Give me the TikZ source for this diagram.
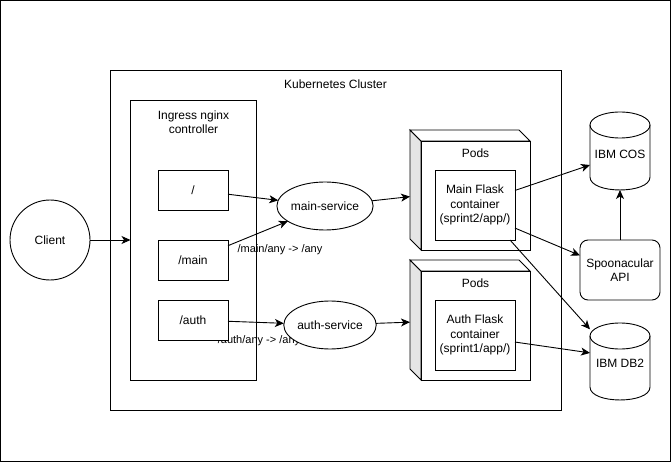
\documentclass[tikz,border=0pt]{standalone}
\usepackage{fontspec}
\setmainfont{Liberation Sans}
\usetikzlibrary{arrows.meta,shapes.geometric}
\tikzset{mybox/.style={draw,fill=white,align=center,inner sep=0pt,outer sep=0pt}}
\tikzset{myellipse/.style={draw,fill=white,shape=ellipse,inner sep=0pt,outer sep=0pt,minimum width=90,minimum height=48}}
\tikzset{myarrow/.style={-{Stealth[length=9pt,width=8pt,inset=2.5pt]}}}
\tikzset{smalltext/.style={font=\fontsize{11}{13}\selectfont}}

\begin{document}
\begin{tikzpicture}[x=1pt,y=-1pt,line width=0.9pt,font=\fontsize{12}{14.5}\selectfont]
            \useasboundingbox (0,0) rectangle (671,462);
            \draw (0.5,0.5) rectangle (670,461);
            % setup the frames
            \node[draw,inner sep=0pt,outer sep=0pt,minimum width=451,minimum height=340] (cluster) at (335.5,240) {};
            \node (clusterlbl) at (335.5,84) {Kubernetes Cluster};
            \node[draw,inner sep=0pt,outer sep=0pt,minimum width=126,minimum height=280] (ingress) at (193.5,240) {};
            \node[align=center] (ingresslbl) at (193.5,122) {Ingress nginx\\controller};
            % route labels go under the shapes
            \node[smalltext] (mainlbl) at (280,250) {/main/any -> /any};
            \node[smalltext] (authlbl) at (259,341) {/auth/any -> /any};
            % setup the nodes
            \node[draw,fill=white,circle,inner sep=0pt,outer sep=0pt,minimum size=80] (client) at (50,240) {Client};
            \node[mybox,minimum width=70,minimum height=40] (slash) at (193,190) {/};
            \node[mybox,minimum width=70,minimum height=40] (mainroute) at (193,260) {/main};
            \node[mybox,minimum width=70,minimum height=40] (authroute) at (193,320) {/auth};
            \node[myellipse] (mainsvc) at (325,206) {main-service};
            \node[myellipse] (authsvc) at (330,325) {auth-service};
            \node[inner sep=0pt,outer sep=0pt,minimum size=120] (pod1) at (470,190) {};
            \node[inner sep=0pt,outer sep=0pt,minimum size=120] (pod2) at (470,320) {};
            \foreach \p in {pod1,pod2}
            {
                \draw[fill=gray!20] (\p.north west) -- ++(11,11) -- ++(0,109) -- ++(-11,-11) -- cycle;
                \draw[fill=white] (\p.north west) -- ++(109,0) -- ++(11,11) -- ++(-109,0) -- cycle;
                \draw[fill=white] ([shift={(11,11)}]\p.north west) rectangle (\p.south east);
                \node (\p lbl) at ([shift={(5.5,23)}]\p.north) {Pods};
            }
            \node[mybox,minimum width=80,minimum height=70] (maincont) at (475,205) {Main Flask\\container\\(sprint2/app/)};
            \node[mybox,minimum width=80,minimum height=70] (authcont) at (475,335) {Auth Flask\\container\\(sprint1/app/)};
            \node[mybox,rounded corners=8pt,minimum width=80,minimum height=60] (spoon) at (620,270) {Spoonacular\\API};
            \node[inner sep=0pt,outer sep=0pt,minimum width=60,minimum height=78] (cos) at (620,151) {};
            \node[inner sep=0pt,outer sep=0pt,minimum width=60,minimum height=77] (db) at (620,361.5) {};
            \foreach \c in {cos,db}
            {
                \draw ([shift={(0,13)}]\c.north west) -- ([shift={(0,-13)}]\c.south west)
                    .. controls ([shift={(0,4.3)}]\c.south west) and ([shift={(0,4.3)}]\c.south east) .. ([shift={(0,-13)}]\c.south east)
                    -- ([shift={(0,13)}]\c.north east);
                \draw ([shift={(0,13)}]\c.north) ellipse [x radius=30, y radius=13];
            }
            \node (coslbl) at ([shift={(0,3)}]cos.center) {IBM COS};
            \node (dblbl) at ([shift={(0,2)}]db.center) {IBM DB2};
            % connectors
            \draw[myarrow] (client) -- (ingress);
            \draw[myarrow] (slash) -- (mainsvc);
            \draw[myarrow] (mainroute) -- (mainsvc);
            \draw[myarrow] (authroute) -- (authsvc);
            \draw[myarrow] (mainsvc) -- (pod1);
            \draw[myarrow] (authsvc) -- (pod2);
            \draw[myarrow] (maincont.20) -- (cos.205);
            \draw[myarrow] (maincont.-30) -- (spoon.160);
            \draw[myarrow] (maincont.-45) -- (db.133);
            \draw[myarrow] (authcont.-10) -- (db.164);
            \draw[myarrow] (spoon) -- (cos);
        \end{tikzpicture}
\end{document}
